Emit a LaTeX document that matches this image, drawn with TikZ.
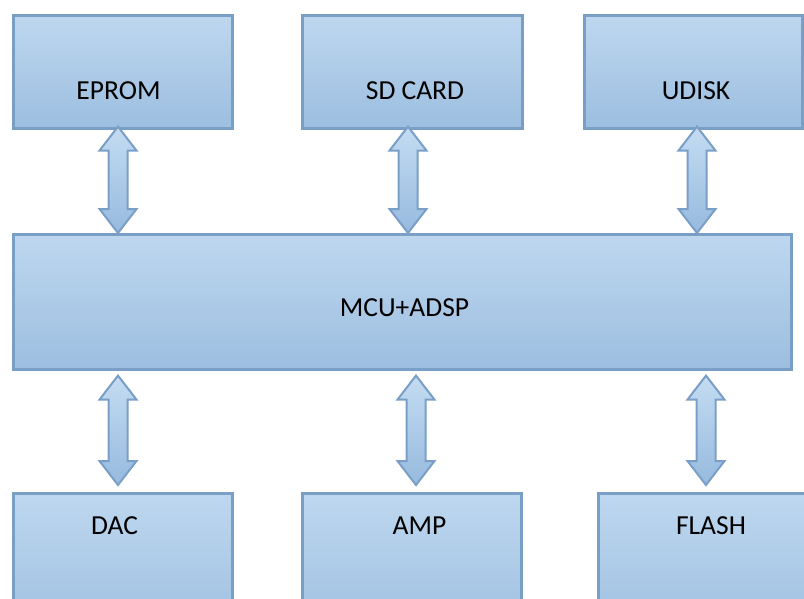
\documentclass[tikz,border=0pt]{standalone}
\usepackage{fontspec}
\setmainfont{Carlito}
\usetikzlibrary{calc}
\definecolor{boxtop}{RGB}{190,215,239}
\definecolor{boxbot}{RGB}{156,190,224}
\definecolor{boxline}{RGB}{122,159,199}
\definecolor{arrtop}{RGB}{196,220,242}
\definecolor{arrbot}{RGB}{150,186,222}
\tikzset{
  blockbox/.style={draw=boxline, line width=2.6pt, top color=boxtop, bottom color=boxbot,
    rectangle, inner sep=0pt, anchor=north west},
  lbl/.style={font=\fontsize{27.5}{31}\selectfont, anchor=base, inner sep=0pt, text=black},
  dblarrow/.style={draw=boxline, line width=2pt, line join=miter, top color=arrtop, bottom color=arrbot}
}
% #1 upper node, #2 lower node, #3 x of arrow, #4 top gap, #5 bottom gap
\newcommand\dblarr[5]{%
  \path[dblarrow] let \p1=(#1.south), \p2=(#2.north) in
    (#3pt,\y1-#4pt) -- (#3pt+18.5pt,\y1-#4pt-24pt) -- (#3pt+9.5pt,\y1-#4pt-24pt)
    -- (#3pt+9.5pt,\y2+#5pt+24pt) -- (#3pt+18.5pt,\y2+#5pt+24pt) -- (#3pt,\y2+#5pt)
    -- (#3pt-18.5pt,\y2+#5pt+24pt) -- (#3pt-9.5pt,\y2+#5pt+24pt)
    -- (#3pt-9.5pt,\y1-#4pt-24pt) -- (#3pt-18.5pt,\y1-#4pt-24pt) -- cycle;}
\begin{document}
\begin{tikzpicture}[x=1pt,y=-1pt]
\useasboundingbox (0,0) rectangle (804,598);
\clip (0,0) rectangle (804,598);
\fill[white] (0,0) rectangle (804,598);
% boxes
\node[blockbox, minimum width=219pt, minimum height=113pt] (eprom) at (12,14) {};
\node[blockbox, minimum width=220pt, minimum height=113pt] (sd) at (301,14) {};
\node[blockbox, minimum width=218pt, minimum height=113pt] (udisk) at (583,14) {};
\node[blockbox, minimum width=778pt, minimum height=135pt] (mcu) at (12,233) {};
\node[blockbox, minimum width=219pt, minimum height=150pt] (dac) at (12,492) {};
\node[blockbox, minimum width=219pt, minimum height=150pt] (amp) at (301,492) {};
\node[blockbox, minimum width=233pt, minimum height=150pt] (flash) at (597,492) {};
% labels
\node[lbl] (teprom) at (118.5,99.3) {EPROM};
\node[lbl] (tsd) at (415,99.3) {SD CARD};
\node[lbl] (tudisk) at (696,99.3) {UDISK};
\node[lbl] (tmcu) at (404.5,316.7) {MCU+ADSP};
\node[lbl] (tdac) at (114.5,534.3) {DAC};
\node[lbl] (tamp) at (419.5,534.3) {AMP};
\node[lbl] (tflash) at (711,534.3) {FLASH};
% connectors
\dblarr{eprom}{mcu}{118}{-3}{0}
\dblarr{sd}{mcu}{408}{-3}{0}
\dblarr{udisk}{mcu}{697}{-3}{0}
\dblarr{mcu}{dac}{118}{5}{7}
\dblarr{mcu}{amp}{416}{5}{7}
\dblarr{mcu}{flash}{706}{5}{7}
\end{tikzpicture}
\end{document}
